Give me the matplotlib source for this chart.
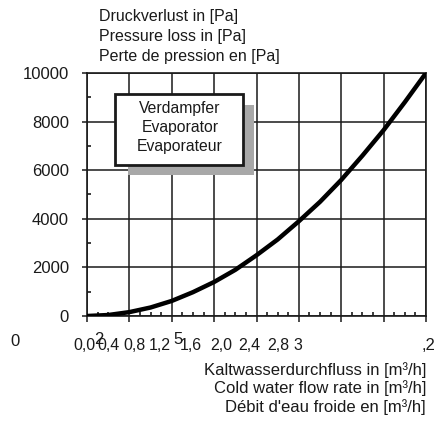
import matplotlib.pyplot as plt
from matplotlib.ticker import MultipleLocator
import matplotlib.patches as patches

plt.rcParams['font.family'] = ['Liberation Sans', 'DejaVu Sans']

# flow rate in m3/h and pressure loss in Pa
flow = [0.0, 0.2, 0.4, 0.6, 0.8, 1.0, 1.2, 1.4, 1.6, 1.8, 2.0, 2.2, 2.4, 2.6, 2.8, 3.0, 3.2]
loss = [0, 40, 160, 350, 620, 980, 1400, 1900, 2500, 3150, 3900, 4700, 5600, 6600, 7650, 8800, 10000]

y_ticks = [0, 2000, 4000, 6000, 8000, 10000]
# x labels as they appear (overlapping, shifted) in the original
x_labels = [('0,0', 73), ('0,4', 97), ('0,8', 123), ('1,2', 149),
            ('1,6', 180), ('2,0', 210), ('2,4', 238), ('2,8', 267), ('3', 293)]
x_extra = [('0', 10, 341), ('2', 94, 340), ('5', 173, 340), (',2', 422, 345)]

y_title = ['Druckverlust in [Pa]', 'Pressure loss in [Pa]', 'Perte de pression en [Pa]']
x_title = ['Kaltwasserdurchfluss in [m³/h]', 'Cold water flow rate in [m³/h]',
           "Débit d'eau froide en [m³/h]"]
box_lines = ['Verdampfer', 'Evaporator', 'Evaporateur']

W, H = 437, 421
fig = plt.figure(figsize=(W / 100, H / 100), dpi=100)
ax = fig.add_axes([87 / W, 1 - 316 / H, (426 - 87) / W, (316 - 73) / H])

ink = '#1a1a1a'
ax.plot(flow, loss, color='black', lw=3.2, solid_capstyle='round', zorder=3)

ax.set_xlim(0, 3.2)
ax.set_ylim(0, 10000)
ax.xaxis.set_major_locator(MultipleLocator(0.4))
ax.xaxis.set_minor_locator(MultipleLocator(0.1))
ax.set_yticks(y_ticks)
ax.yaxis.set_minor_locator(MultipleLocator(1000))
ax.set_xticklabels([])
ax.tick_params(axis='x', which='major', direction='out', length=4.5, width=1.1, color=ink)
ax.tick_params(axis='x', which='minor', direction='in', length=3, width=1.2, color=ink)
ax.tick_params(axis='y', which='major', direction='out', length=3.6, width=1.1, color=ink,
               labelsize=12, labelcolor=ink, pad=9.5)
ax.tick_params(axis='y', which='minor', direction='in', length=3, width=1.2, color=ink)
ax.grid(True, which='major', color=ink, lw=1.1)
for s in ax.spines.values():
    s.set_color(ink)
    s.set_linewidth(1.2)

def px(x, y):
    return x / W, 1 - y / H

for lab, x in x_labels:
    fig.text(*px(x, 345), lab, fontsize=11.5, color=ink, ha='left', va='center')
for lab, x, y in x_extra:
    fig.text(*px(x, y), lab, fontsize=12, color=ink, ha='left', va='center')

for i, t in enumerate(y_title):
    fig.text(*px(99, 16 + i * 20), t, fontsize=11.5, color=ink, ha='left', va='center')
for i, t in enumerate(x_title):
    fig.text(*px(426, 370 + i * 18.5), t, fontsize=12, color=ink, ha='right', va='center')

# label box with drop shadow
shadow = patches.Rectangle(px(128, 175), (254 - 128) / W, (175 - 105) / H,
                           transform=fig.transFigure, facecolor='#a8a8a8',
                           edgecolor='none', zorder=4)
box = patches.Rectangle(px(115, 165), (243 - 115) / W, (165 - 94) / H,
                        transform=fig.transFigure, facecolor='white',
                        edgecolor=ink, lw=2, zorder=5)
fig.patches.extend([shadow, box])
for i, t in enumerate(box_lines):
    fig.text(*px(180, 108 + i * 19.5), t, fontsize=11.3, color=ink,
             ha='center', va='center', zorder=6)

fig.savefig('out.png', dpi=100)
